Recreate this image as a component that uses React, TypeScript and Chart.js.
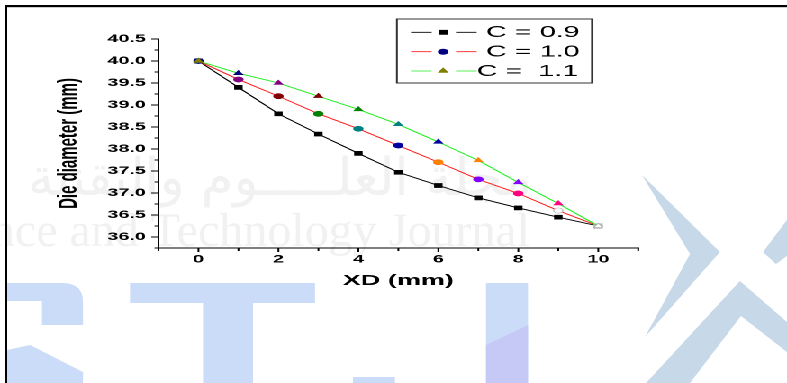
import { useEffect, useRef } from 'react';
import { Chart, registerables } from 'chart.js';
import { drawPoint } from 'chart.js/helpers';

Chart.register(...registerables);

// ---- data -------------------------------------------------------------
const xd = [0, 1, 2, 3, 4, 5, 6, 7, 8, 9, 10];
const diaC09 = [40.0, 39.4, 38.8, 38.34, 37.9, 37.47, 37.17, 36.89, 36.66, 36.45, 36.25];
const diaC10 = [40.0, 39.58, 39.2, 38.8, 38.46, 38.08, 37.7, 37.31, 36.99, 36.6, 36.25];
const diaC11 = [40.0, 39.72, 39.5, 39.2, 38.9, 38.56, 38.16, 37.74, 37.24, 36.76, 36.25];
const seriesLabels = ['C = 0.9', 'C = 1.0', 'C =  1.1'];
const xTickValues = [0, 2, 4, 6, 8, 10];
const yTickValues = [36.0, 36.5, 37.0, 37.5, 38.0, 38.5, 39.0, 39.5, 40.0, 40.5];

// ---- styling ----------------------------------------------------------
// Origin's incrementing colour list, used for per-point symbol colours
const originColors = [
  '#000000', '#ff0000', '#00ff00', '#0000ff', '#00ffff', '#ff00ff', '#ffff00',
  '#808000', '#000080', '#800080', '#800000', '#008000', '#008080', '#0000a0',
  '#ff8000', '#8000ff', '#ff0080', '#ffffff', '#c0c0c0', '#808080', '#ffff80',
];
const lineColors = ['#000000', '#ff2020', '#22ee22'];
const symbolStyles = ['rect', 'circle', 'triangle'];
const symbolRadius = [2.9, 2.6, 2.8];
const colorStart = [-1, 8, 7]; // -1: all black

const PAGE_W = 787;
const PAGE_H = 383;
const CANVAS_W = 437; // drawn narrow, stretched horizontally to page width
const SX = PAGE_W / CANVAS_W;
const SANS = '"Liberation Sans", Arial, Helvetica, sans-serif';

function pointColors(series: number, n: number): string[] {
  const start = colorStart[series];
  if (start < 0) return new Array(n).fill('#000000');
  return Array.from({ length: n }, (_, i) => originColors[(start + i) % originColors.length]);
}

function borderFor(c: string): string {
  return c === '#ffffff' ? '#b0b0b0' : c;
}

// faint journal watermark behind the plot (page coordinates)
const watermark = {
  id: 'watermark',
  beforeDraw(chart: any) {
    const ctx: CanvasRenderingContext2D = chart.ctx;
    ctx.save();
    ctx.scale(1 / SX, 1);

    // text
    ctx.fillStyle = '#f1f1f1';
    ctx.textBaseline = 'alphabetic';
    ctx.font = '48px "Liberation Serif", "Times New Roman", serif';
    ctx.textAlign = 'right';
    ctx.fillText('Science and Technology Journal', 530, 246);
    ctx.font = '52px "DejaVu Sans", sans-serif';
    (ctx as any).direction = 'rtl';
    ctx.textAlign = 'right';
    ctx.fillText('مجلة العلـــــوم والتقنية', 532, 195);
    (ctx as any).direction = 'ltr';

    // big letters
    ctx.fillStyle = '#cadcf8';
    // S
    ctx.beginPath();
    ctx.moveTo(7, 283);
    ctx.lineTo(62, 283);
    ctx.quadraticCurveTo(83, 283, 83, 302);
    ctx.lineTo(83, 325);
    ctx.lineTo(42, 325);
    ctx.lineTo(42, 301);
    ctx.lineTo(7, 301);
    ctx.closePath();
    ctx.fill();
    ctx.beginPath();
    ctx.moveTo(7, 350);
    ctx.lineTo(30, 345);
    ctx.lineTo(83, 372);
    ctx.lineTo(83, 383);
    ctx.lineTo(7, 383);
    ctx.closePath();
    ctx.fill();
    // T
    ctx.fillRect(130, 283, 185, 20);
    ctx.fillRect(203, 303, 50, 80);
    // dot
    ctx.fillRect(353, 377, 42, 6);
    // J stem
    ctx.fillRect(486, 283, 42, 100);
    ctx.fillStyle = 'rgba(196,196,244,0.8)';
    ctx.beginPath();
    ctx.moveTo(486, 345);
    ctx.lineTo(528, 325);
    ctx.lineTo(528, 383);
    ctx.lineTo(486, 383);
    ctx.closePath();
    ctx.fill();

    // X logo
    ctx.fillStyle = '#c7d8e8';
    const poly = (pts: number[][]) => {
      ctx.beginPath();
      ctx.moveTo(pts[0][0], pts[0][1]);
      for (let i = 1; i < pts.length; i++) ctx.lineTo(pts[i][0], pts[i][1]);
      ctx.closePath();
      ctx.fill();
    };
    poly([[642, 175], [720, 252], [645, 337], [690, 254]]);
    poly([[646, 383], [740, 281], [787, 322], [787, 352], [741, 316], [690, 383]]);
    poly([[763, 252], [787, 220], [787, 256], [776, 264]]);
    ctx.restore();
  },
};

// axis tick marks (major + minor) and the figure frame
const axisDecor = {
  id: 'axisDecor',
  afterDraw(chart: any) {
    const ctx: CanvasRenderingContext2D = chart.ctx;
    const { x, y } = chart.scales;
    const area = chart.chartArea;
    ctx.save();
    ctx.strokeStyle = '#000';
    ctx.lineWidth = 1;
    ctx.beginPath();
    for (let v = x.min; v <= x.max + 1e-9; v += 1) {
      const px = x.getPixelForValue(v);
      const len = Math.round(v) % 2 === 0 ? 4 : 3;
      ctx.moveTo(px, area.bottom);
      ctx.lineTo(px, area.bottom + len);
    }
    for (let v = y.min; v <= y.max + 1e-9; v += 0.25) {
      const py = y.getPixelForValue(v);
      const major = Math.abs(v * 2 - Math.round(v * 2)) < 1e-6;
      const len = major ? 4 : 2.2;
      ctx.moveTo(area.left - len, py);
      ctx.lineTo(area.left, py);
    }
    ctx.stroke();

    // frame (page coordinates)
    ctx.scale(1 / SX, 1);
    ctx.fillStyle = '#000';
    ctx.fillRect(5, 5, PAGE_W - 5, 2.2);
    ctx.fillRect(5, 5, 2.2, PAGE_H - 5);
    ctx.restore();
  },
};

// boxed legend: line - symbol - line, then label
const boxLegend = {
  id: 'boxLegend',
  afterDraw(chart: any) {
    const ctx: CanvasRenderingContext2D = chart.ctx;
    const box = { left: 220.4, top: 19, width: 108.3, height: 64 };
    const rows = [32.3, 51.7, 71];
    const textShift = [0, 0, -5.2];
    ctx.save();
    ctx.fillStyle = '#fff';
    ctx.fillRect(box.left, box.top, box.width, box.height);
    ctx.strokeStyle = '#333';
    ctx.lineWidth = 1;
    ctx.strokeRect(box.left, box.top, box.width, box.height);
    chart.data.datasets.forEach((ds: any, i: number) => {
      const yy = rows[i];
      ctx.strokeStyle = ds.borderColor;
      ctx.lineWidth = 0.8;
      ctx.beginPath();
      ctx.moveTo(228.2, yy);
      ctx.lineTo(239.7, yy);
      ctx.moveTo(253.2, yy);
      ctx.lineTo(264.7, yy);
      ctx.stroke();
      const c = ds.pointBackgroundColor[0];
      ctx.fillStyle = c;
      ctx.strokeStyle = c;
      drawPoint(ctx, { pointStyle: ds.pointStyle, radius: ds.pointRadius, rotation: 0, borderWidth: 0.6 } as any, 246.1, yy);
      ctx.fillStyle = '#000';
      ctx.font = `16px ${SANS}`;
      ctx.textAlign = 'left';
      ctx.textBaseline = 'middle';
      ctx.fillText(ds.label, 269.9 + textShift[i], yy + 0.5);
    });
    ctx.restore();
  },
};

export default function App() {
  const ref = useRef<HTMLCanvasElement | null>(null);

  useEffect(() => {
    if (!ref.current) return;
    const series = [diaC09, diaC10, diaC11];
    const datasets = series.map((vals, i) => {
      const cols = pointColors(i, vals.length);
      return {
        label: seriesLabels[i],
        data: vals.map((v, k) => ({ x: xd[k], y: v })),
        borderColor: lineColors[i],
        borderWidth: 0.9,
        pointStyle: symbolStyles[i],
        pointRadius: symbolRadius[i],
        pointBackgroundColor: cols,
        pointBorderColor: cols.map(borderFor),
        pointBorderWidth: 0.6,
        tension: 0,
        order: 2 - i,
      };
    });

    const chart = new Chart(ref.current, {
      type: 'line',
      data: { datasets } as any,
      plugins: [watermark, axisDecor, boxLegend],
      options: {
        responsive: false,
        animation: false,
        devicePixelRatio: 2,
        layout: { padding: { left: 0, right: CANVAS_W - 354.4, top: 39, bottom: 85 } },
        plugins: { legend: { display: false }, tooltip: { enabled: false } },
        scales: {
          x: {
            type: 'linear',
            min: -1,
            max: 11,
            afterBuildTicks: (s: any) => {
              s.ticks = xTickValues.map((v) => ({ value: v }));
            },
            afterFit: (s: any) => {
              s.height = 50;
            },
            grid: { display: false, drawTicks: false },
            border: { display: true, color: '#000', width: 1 },
            ticks: {
              color: '#000',
              padding: 5,
              maxRotation: 0,
              autoSkip: false,
              font: { family: SANS, size: 11, weight: 'bold' },
            },
            title: {
              display: true,
              text: 'XD (mm)',
              color: '#000',
              font: { family: SANS, size: 15, weight: 'bold' },
              padding: { top: 0, bottom: 8 },
            },
          },
          y: {
            type: 'linear',
            min: 35.75,
            max: 40.5,
            afterBuildTicks: (s: any) => {
              s.ticks = yTickValues.map((v) => ({ value: v }));
            },
            afterFit: (s: any) => {
              s.width = 88;
            },
            grid: { display: false, drawTicks: false },
            border: { display: true, color: '#000', width: 1 },
            ticks: {
              color: '#000',
              padding: 7,
              autoSkip: false,
              font: { family: SANS, size: 11, weight: 'bold' },
              callback: (v: any) => Number(v).toFixed(1),
            },
            title: {
              display: true,
              text: 'Die diameter (mm)',
              color: '#000',
              font: { family: SANS, size: 15, weight: 'bold' },
              padding: { top: 29.5, bottom: 0 },
            },
          },
        },
      } as any,
    });
    return () => chart.destroy();
  }, []);

  return (
    <div
      style={{
        position: 'fixed',
        left: 0,
        top: 0,
        width: CANVAS_W,
        height: PAGE_H,
        transform: `scaleX(${SX})`,
        transformOrigin: '0 0',
        background: '#fff',
      }}
    >
      <canvas ref={ref} width={CANVAS_W} height={PAGE_H} />
    </div>
  );
}
